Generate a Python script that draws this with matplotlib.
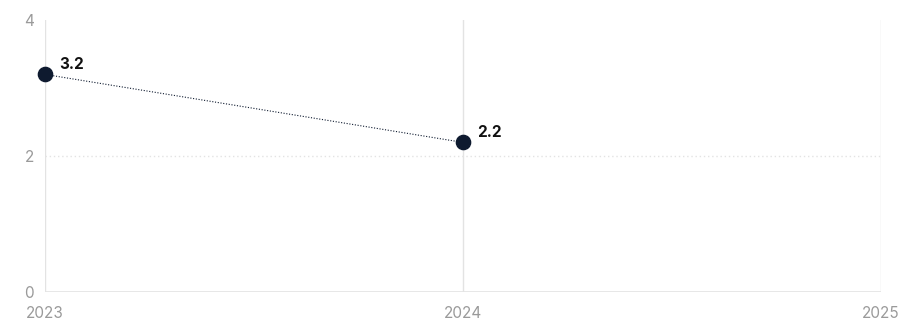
import matplotlib.pyplot as plt

years = [2023, 2024]
values = [3.2, 2.2]
x_ticks = [2023, 2024, 2025]
y_ticks = [0, 2, 4]

plt.rcParams['font.family'] = ['Inter', 'DejaVu Sans']

fig = plt.figure(figsize=(9.01, 3.23), dpi=100)
ax = fig.add_axes([45 / 901, 31 / 323, 836 / 901, 272 / 323])

grid_col = '#e3e3e3'
for x in x_ticks:
    ax.axvline(x, color=grid_col, lw=1, zorder=0)
ax.axhline(0, color=grid_col, lw=1.2, zorder=0)
ax.axhline(2, color=grid_col, lw=1, ls=(0, (1, 2)), zorder=0)

dark = '#0e1a2f'
ax.plot(years, values, color=dark, lw=0.8, ls=(0, (1, 1.5)), zorder=2)
ax.scatter(years, values, s=105, color=dark, zorder=3, clip_on=False)
for x, v in zip(years, values):
    ax.annotate(f'{v:.1f}', (x, v), xytext=(10, 7), textcoords='offset points',
                fontsize=11, fontweight='bold', color='#111111', va='center', ha='left')

ax.set_xlim(2023, 2025)
ax.set_ylim(0, 4)
ax.set_xticks(x_ticks)
ax.set_xticklabels([str(t) for t in x_ticks])
ax.set_yticks(y_ticks)
ax.set_yticklabels([str(t) for t in y_ticks])
ax.tick_params(length=0, colors='#9a9a9a', labelsize=11)
ax.tick_params(axis='x', pad=10)
ax.tick_params(axis='y', pad=8)
for s in ax.spines.values():
    s.set_visible(False)

fig.savefig('out.png', dpi=100)
